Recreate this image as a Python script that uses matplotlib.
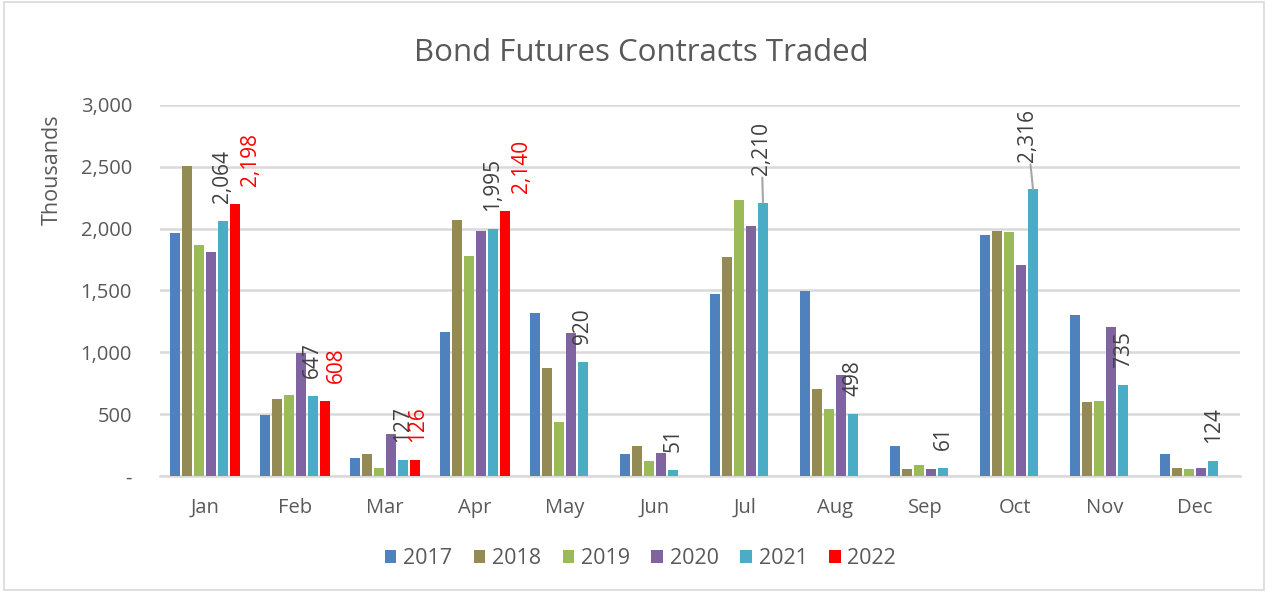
import matplotlib.pyplot as plt
import numpy as np
from matplotlib.patches import Rectangle

months = ["Jan", "Feb", "Mar", "Apr", "May", "Jun",
          "Jul", "Aug", "Sep", "Oct", "Nov", "Dec"]
years = ["2017", "2018", "2019", "2020", "2021", "2022"]

v2017 = [1963, 493, 148, 1165, 1319, 178, 1472, 1494, 240, 1950, 1297, 178]
v2018 = [2508, 625, 178, 2071, 871, 240, 1766, 706, 57, 1982, 596, 67]
v2019 = [1869, 655, 67, 1777, 434, 119, 2227, 544, 87, 1971, 607, 57]
v2020 = [1810, 993, 340, 1982, 1154, 189, 2022, 820, 57, 1707, 1205, 67]
v2021 = [2064, 647, 127, 1995, 920, 51, 2210, 498, 61, 2316, 735, 124]
v2022 = [2198, 608, 126, 2140]

series = [v2017, v2018, v2019, v2020, v2021, v2022]
colors = ["#4f81bd", "#948a54", "#9bbb59", "#8064a2", "#4bacc6", "#ff0000"]

# months whose labels sit further up with a leader line
leader_months = {"Jul": -1, "Oct": -4}
# horizontal nudge (points) of the red 2022 labels, as placed in the original
red_dx = [11, 8, 2, 12]

plt.rcParams["font.family"] = ["Open Sans", "DejaVu Sans"]
text_col = "#595959"

fig = plt.figure(figsize=(12.68, 5.92), dpi=100)
ax = fig.add_axes([0.126, 0.196, 0.852, 0.627])

x = np.arange(len(months))
slot = 0.8 / 6
width = slot * 0.83

for i, (vals, col, yr) in enumerate(zip(series, colors, years)):
    xs = x[: len(vals)] + (i - 2.5) * slot
    ax.bar(xs, vals, width=width, color=col, label=yr, zorder=3)
    if yr == "2021":
        for xi, v, m in zip(xs, vals, months):
            if m in leader_months:
                ax.annotate(f"{v:,}", xy=(xi, v),
                            xytext=(leader_months[m], 20),
                            textcoords="offset points", rotation=90,
                            ha="center", va="bottom", fontsize=15,
                            color="#404040",
                            arrowprops=dict(arrowstyle="-", color="#a6a6a6",
                                            lw=1.5, shrinkA=0, shrinkB=0))
            else:
                ax.annotate(f"{v:,}", xy=(xi, v), xytext=(0, 13),
                            textcoords="offset points", rotation=90,
                            ha="center", va="bottom", fontsize=15,
                            color="#404040")
    elif yr == "2022":
        for xi, v, dx in zip(xs, vals, red_dx):
            ax.annotate(f"{v:,}", xy=(xi, v), xytext=(dx, 13),
                        textcoords="offset points", rotation=90,
                        ha="center", va="bottom", fontsize=15,
                        color="#ff0000")

ax.set_xlim(-0.5, len(months) - 0.5)
ax.set_ylim(0, 3000)
ax.set_yticks(np.arange(0, 3001, 500))
ax.set_yticklabels(["-"] + [f"{t:,}" for t in range(500, 3001, 500)])
ax.set_xticks(x)
ax.set_xticklabels(months)
ax.tick_params(axis="both", length=0, labelsize=14.5, colors=text_col)
ax.tick_params(axis="x", pad=16)
ax.tick_params(axis="y", pad=20)
ax.grid(axis="y", color="#d9d9d9", linewidth=1.8, zorder=0)
for s in ["top", "right", "left"]:
    ax.spines[s].set_visible(False)
ax.spines["bottom"].set_color("#d9d9d9")
ax.spines["bottom"].set_linewidth(1.8)

ax.set_ylabel("Thousands", fontsize=15.5, color=text_col)
ax.yaxis.set_label_coords(-0.09, 0.825)
fig.text(0.506, 0.91, "Bond Futures Contracts Traded", ha="center",
         va="center", fontsize=22.5, color=text_col)

leg = fig.legend(loc="center", bbox_to_anchor=(0.505, 0.057), ncol=6,
                 frameon=False, fontsize=15.5, handlelength=0.55,
                 handleheight=0.55, handletextpad=0.3, columnspacing=1.0)
for t in leg.get_texts():
    t.set_color(text_col)

fig.patches.append(Rectangle((0.003, 0.003), 0.994, 0.994,
                             transform=fig.transFigure, fill=False,
                             edgecolor="#d9d9d9", linewidth=1.2))

plt.savefig("out.png", dpi=100)
plt.close()
